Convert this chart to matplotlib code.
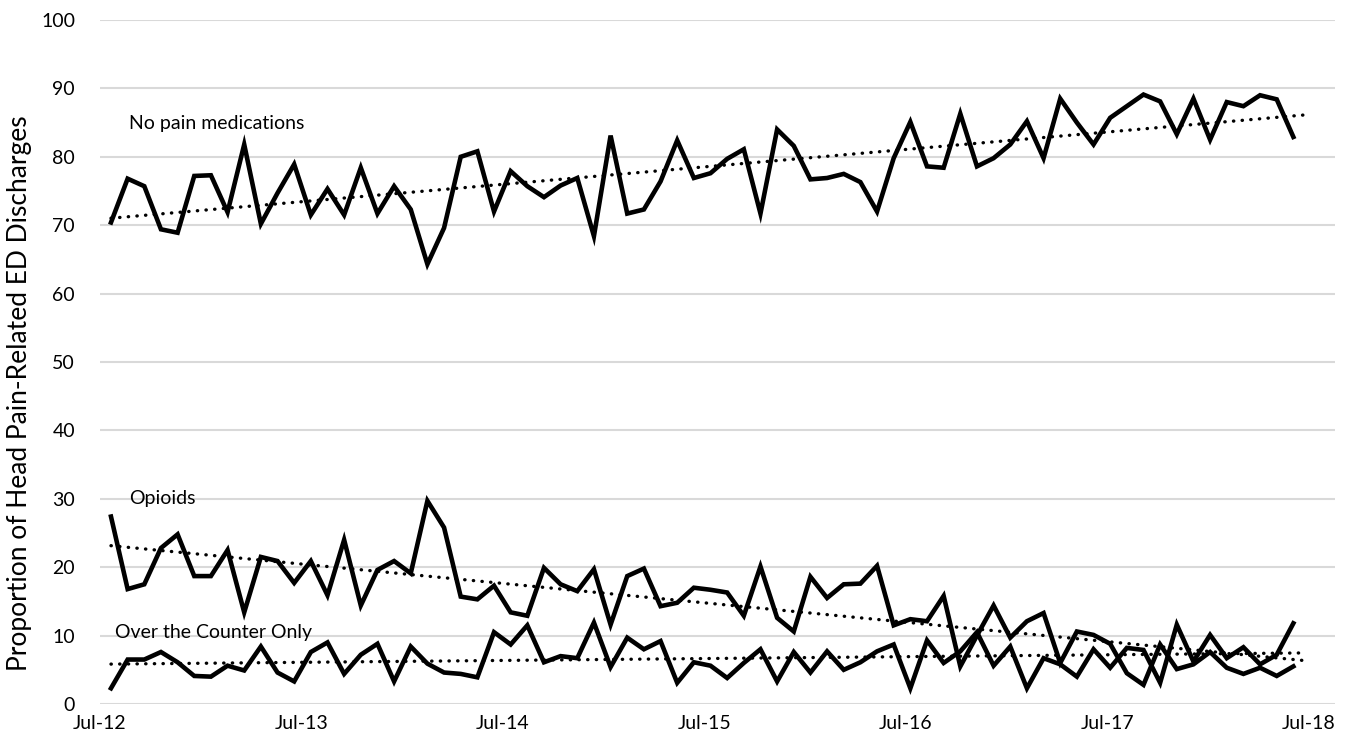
import numpy as np
import matplotlib.pyplot as plt

plt.rcParams['font.family'] = ['Lato', 'DejaVu Sans']

# monthly values, Jul-12 .. Jun-18 (72 months)
no_pain = [70.4, 76.8, 75.7, 69.4, 68.9, 77.2, 77.3, 71.9, 81.8, 70.2, 74.7, 78.9,
           71.5, 75.3, 71.5, 78.4, 71.7, 75.7, 72.3, 64.3, 69.6, 80.0, 80.8, 72.0,
           77.9, 75.7, 74.1, 75.8, 76.9, 68.4, 83.1, 71.7, 72.3, 76.4, 82.4, 76.9,
           77.6, 79.7, 81.1, 71.7, 84.0, 81.6, 76.7, 76.9, 77.5, 76.3, 72.0, 79.8,
           85.1, 78.6, 78.4, 86.3, 78.6, 79.8, 81.8, 85.2, 79.8, 88.5, 85.0, 81.8,
           85.7, 87.4, 89.1, 88.1, 83.3, 88.5, 82.5, 88.0, 87.4, 89.0, 88.4, 82.9]
opioids = [27.4, 16.8, 17.5, 22.8, 24.8, 18.7, 18.7, 22.5, 13.4, 21.5, 20.9, 17.7,
           20.9, 15.9, 24.0, 14.4, 19.6, 20.9, 19.1, 29.7, 25.8, 15.7, 15.3, 17.3,
           13.4, 12.9, 19.9, 17.5, 16.5, 19.7, 11.6, 18.7, 19.8, 14.3, 14.8, 17.0,
           16.7, 16.3, 12.9, 20.1, 12.6, 10.6, 18.6, 15.5, 17.5, 17.6, 20.2, 11.5,
           12.4, 12.1, 15.8, 5.5, 10.0, 14.4, 9.7, 12.1, 13.3, 6.0, 10.6, 10.1,
           8.8, 4.5, 2.8, 8.7, 5.1, 5.8, 7.6, 5.3, 4.4, 5.3, 4.1, 5.5]
otc = [2.3, 6.5, 6.5, 7.6, 6.1, 4.1, 4.0, 5.6, 4.9, 8.4, 4.6, 3.3,
       7.6, 9.0, 4.4, 7.2, 8.8, 3.3, 8.4, 5.9, 4.6, 4.4, 3.9, 10.5,
       8.7, 11.5, 6.1, 7.0, 6.7, 11.9, 5.4, 9.7, 8.0, 9.2, 3.1, 6.1,
       5.6, 3.8, 6.0, 8.0, 3.3, 7.6, 4.6, 7.7, 5.0, 6.1, 7.7, 8.7,
       2.3, 9.3, 6.0, 7.7, 10.5, 5.6, 8.4, 2.3, 6.7, 5.8, 4.0, 8.0,
       5.3, 8.2, 7.9, 3.1, 11.6, 6.2, 10.1, 6.7, 8.3, 5.8, 7.2, 11.8]
tick_labels = ['Jul-12', 'Jul-13', 'Jul-14', 'Jul-15', 'Jul-16', 'Jul-17', 'Jul-18']

fig = plt.figure(figsize=(13.55, 7.51), dpi=100)
ax = fig.add_axes([100 / 1355, 1 - 704 / 751, 1235 / 1355, 684 / 751])

x = np.arange(len(no_pain))
xt = np.array([0, x[-1] + 0.8])
dots = (0, (0.1, 2.5))

for series in (no_pain, opioids, otc):
    y = np.array(series)
    ax.plot(x, y, '-', color='black', lw=3.3, solid_joinstyle='miter', zorder=3)
    # linear trendline, like the spreadsheet one
    b, a = np.polyfit(x, y, 1)
    ax.plot(xt, a + b * xt, linestyle=dots, color='black', lw=2.4,
            dash_capstyle='round', zorder=4)

ax.text(1.1, 84.8, 'No pain medications', fontsize=14, va='center')
ax.text(1.1, 30.0, 'Opioids', fontsize=14, va='center')
ax.text(0.25, 10.4, 'Over the Counter Only', fontsize=14, va='center')

ax.set_xlim(-0.48, 73.5)
ax.set_ylim(0, 100)
ax.set_yticks(np.arange(0, 101, 10))
ax.set_xticks(np.arange(7) * 12.1 - 0.66)
ax.set_xticklabels(tick_labels)
ax.tick_params(length=0, labelsize=14, pad=8)
ax.tick_params(axis='y', pad=18)
ax.grid(axis='y', color='#d9d9d9', lw=1.5)
ax.set_axisbelow(True)
for s in ax.spines.values():
    s.set_visible(False)
ax.set_ylabel('Proportion of Head Pain-Related ED Discharges', fontsize=19)
ax.yaxis.set_label_coords(-0.055, 0.455)

plt.savefig('out.png', dpi=100)
